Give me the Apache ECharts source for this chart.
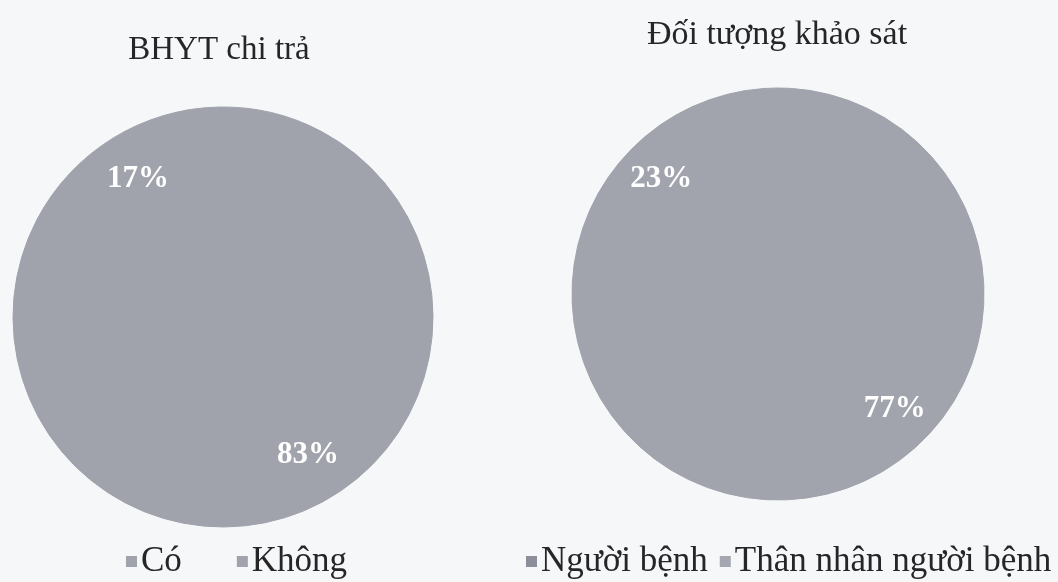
<!DOCTYPE html>
<html lang="vi">
<head>
    <meta charset="UTF-8">
    <script src="https://cdn.jsdelivr.net/npm/echarts@6/dist/echarts.min.js"></script>
    <title>BHYT chi trả / Đối tượng khảo sát</title>
</head>
<body>
<style>
    html, body, #main {
        width: 100%;
        height: 100%;
        margin: 0;
        background: #f6f7f9;
    }
</style>
<div id='main'></div>
<script>
    // du lieu doc tu hinh
    var bhytNames = ['Có', 'Không'];
    var bhytValues = [17, 83];
    var doiTuongNames = ['Người bệnh', 'Thân nhân người bệnh'];
    var doiTuongValues = [23, 77];
    // ban scan xam, hai lat gan nhu cung mau
    var bhytColors = ['#a0a2ac', '#a0a2ac'];
    var doiTuongColors = ['#a1a3ad', '#a1a3ad'];

    var serif = '"Liberation Serif", "DejaVu Serif", serif';

    function makeData(names, values, colors) {
        var out = [];
        for (var i = 0; i < names.length; i++) {
            out.push({
                name: names[i], value: values[i],
                itemStyle: {color: colors[i], borderColor: colors[i], borderWidth: 1}
            });
        }
        return out;
    }

    function legendData(names, colors) {
        var out = [];
        for (var i = 0; i < names.length; i++) {
            out.push({name: names[i], itemStyle: {color: colors[i], borderWidth: 0}});
        }
        return out;
    }

    // pie to mau, khong nhan
    function fillPie(names, values, colors, center, r, start) {
        return {
            type: 'pie',
            center: center,
            radius: [0, r],
            startAngle: start,
            clockwise: false,
            label: {show: false},
            labelLine: {show: false},
            silent: true,
            data: makeData(names, values, colors)
        };
    }

    // lop trong suot chi de dat nhan % gan mep
    function labelPie(names, values, center, r0, r, start) {
        var d = [];
        for (var i = 0; i < names.length; i++) {
            d.push({name: names[i], value: values[i], itemStyle: {color: 'rgba(0,0,0,0)'}});
        }
        return {
            type: 'pie',
            center: center,
            radius: [r0, r],
            startAngle: start,
            clockwise: false,
            silent: true,
            legendHoverLink: false,
            label: {
                show: true,
                position: 'inside',
                formatter: '{c}%',
                color: '#ffffff',
                fontFamily: serif,
                fontWeight: 'bold',
                fontSize: 31
            },
            labelLine: {show: false},
            data: d
        };
    }

    var chart = echarts.init(document.getElementById('main'));

    var option = {
        backgroundColor: '#f6f7f9',
        animation: false,
        title: [
            {
                text: 'BHYT chi trả',
                left: 214, top: 29,
                textAlign: 'center',
                textStyle: {fontFamily: serif, fontWeight: 'normal', fontSize: 33, color: '#262626'}
            },
            {
                text: 'Đối tượng khảo sát',
                left: 772, top: 13,
                textAlign: 'center',
                textStyle: {fontFamily: serif, fontWeight: 'normal', fontSize: 34, color: '#262626'}
            }
        ],
        legend: [
            {
                left: 121, top: 539,
                itemWidth: 11, itemHeight: 11,
                itemGap: 55,
                icon: 'rect',
                textStyle: {fontFamily: serif, fontSize: 35, color: '#262626', padding: [0, 0, 0, -1]},
                data: legendData(bhytNames, ['#a1a3ac', '#a1a3ac'])
            },
            {
                left: 521, top: 539,
                itemWidth: 11, itemHeight: 11,
                itemGap: 12,
                icon: 'rect',
                textStyle: {fontFamily: serif, fontSize: 35, color: '#262626', padding: [0, 0, 0, -1]},
                data: legendData(doiTuongNames, ['#8c8f99', '#a5a7b0'])
            }
        ],
        series: [
            fillPie(bhytNames, bhytValues, bhytColors, [223, 317], 210, 91),
            labelPie(bhytNames, bhytValues, [223, 317], 108, 210, 91),
            fillPie(doiTuongNames, doiTuongValues, doiTuongColors, [778, 294], 206, 94),
            labelPie(doiTuongNames, doiTuongValues, [778, 294], 116, 206, 94)
        ]
    };

    chart.setOption(option);
    window.onresize = chart.resize;
</script>
</body>
</html>
